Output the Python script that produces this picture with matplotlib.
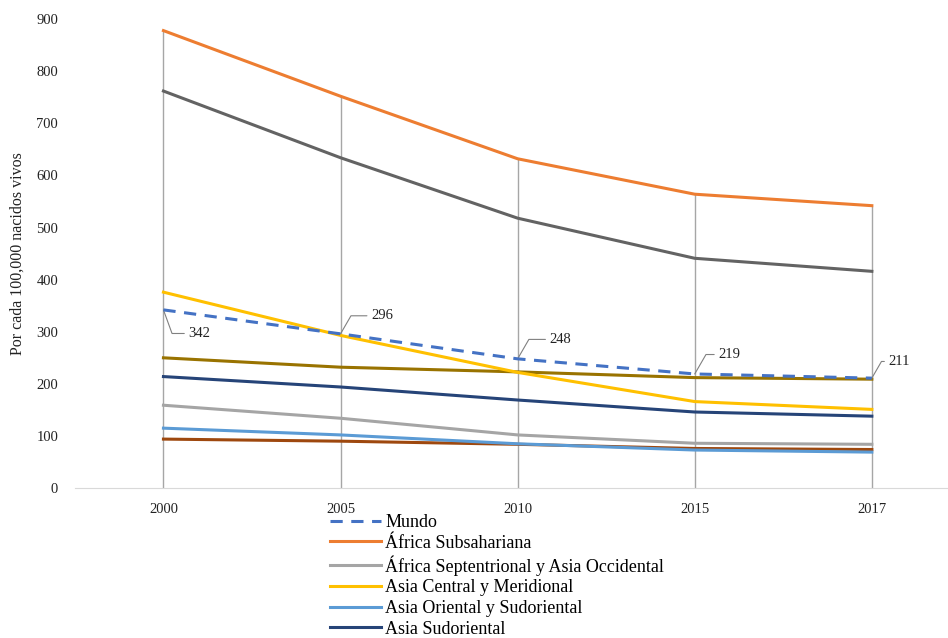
import numpy as np
import matplotlib
matplotlib.use("Agg")
import matplotlib.pyplot as plt

plt.rcParams['font.family'] = ['Liberation Serif', 'DejaVu Serif']

years = ["2000", "2005", "2010", "2015", "2017"]

mundo = [342, 296, 248, 219, 211]
africa_subsahariana = [878, 752, 632, 564, 542]
oscuro = [762, 634, 518, 441, 416]
africa_sept = [159, 134, 102, 86, 84]
asia_central = [376, 293, 222, 166, 151]
asia_oriental = [115, 102, 85, 73, 69]
asia_sudoriental = [214, 194, 169, 146, 138]
oliva = [250, 232, 223, 212, 209]
cafe = [94, 90, 84, 76, 74]

fig = plt.figure(figsize=(9.48, 6.38), dpi=100)
ax = fig.add_axes([0.079, 0.235, 0.921, 0.735])

x = np.arange(len(years))
all_series = [africa_subsahariana, oscuro, asia_central, mundo, oliva,
              asia_sudoriental, africa_sept, asia_oriental, cafe]
tops = np.max(np.array(all_series), axis=0)
ax.vlines(x, 0, tops, color='#A6A6A6', lw=1.0, zorder=1)

lw = 2.2
ax.plot(x, oscuro, color='#636363', lw=lw, zorder=3)
ax.plot(x, oliva, color='#997300', lw=lw, zorder=3)
ax.plot(x, cafe, color='#9E480E', lw=lw, zorder=3)
h_sud = ax.plot(x, asia_sudoriental, color='#264478', lw=lw, zorder=3, label='Asia Sudoriental')[0]
h_ori = ax.plot(x, asia_oriental, color='#5B9BD5', lw=lw, zorder=3, label='Asia Oriental y Sudoriental')[0]
h_sept = ax.plot(x, africa_sept, color='#A5A5A5', lw=lw, zorder=3, label='África Septentrional y Asia Occidental')[0]
h_cen = ax.plot(x, asia_central, color='#FFC000', lw=lw, zorder=3, label='Asia Central y Meridional')[0]
h_sub = ax.plot(x, africa_subsahariana, color='#ED7D31', lw=lw, zorder=3, label='África Subsahariana')[0]
h_mun = ax.plot(x, mundo, color='#4472C4', lw=lw, ls=(0, (4, 2.8)), zorder=4, label='Mundo')[0]

# etiquetas de Mundo con línea guía
offsets = [(18, -17), (22, 13), (23, 14), (17, 14), (12, 12)]
for xi, v, (dx, dy) in zip(x, mundo, offsets):
    ax.annotate(str(v), xy=(xi, v), xytext=(dx, dy), textcoords='offset points',
                fontsize=10.5, va='center', ha='left', color='#222222',
                arrowprops=dict(arrowstyle='-', color='#808080', lw=0.8,
                                shrinkA=1, shrinkB=0,
                                connectionstyle='angle,angleA=0,angleB=%d,rad=0'
                                % (-70 if dy < 0 else 60)))

ax.set_xlim(-0.5, 4.43)
ax.set_ylim(0, 900)
ax.set_yticks(range(0, 901, 100))
ax.set_xticks(x)
ax.set_xticklabels(years)
ax.tick_params(axis='both', length=0, labelsize=10.5, colors='#222222')
ax.tick_params(axis='x', pad=11)
ax.tick_params(axis='y', pad=12)
for s in ['top', 'right', 'left']:
    ax.spines[s].set_visible(False)
ax.spines['bottom'].set_color('#D9D9D9')
ax.set_ylabel('Por cada 100,000 nacidos vivos', fontsize=11.5, color='#222222', labelpad=8)

fig.legend(handles=[h_mun, h_sub, h_sept, h_cen, h_ori, h_sud],
           loc='upper left', bbox_to_anchor=(330 / 948, 1 - 514 / 638),
           frameon=False, fontsize=13, handlelength=2.8, handletextpad=0.25,
           labelspacing=0.2, borderpad=0, borderaxespad=0)

fig.savefig('out.png', dpi=100)
